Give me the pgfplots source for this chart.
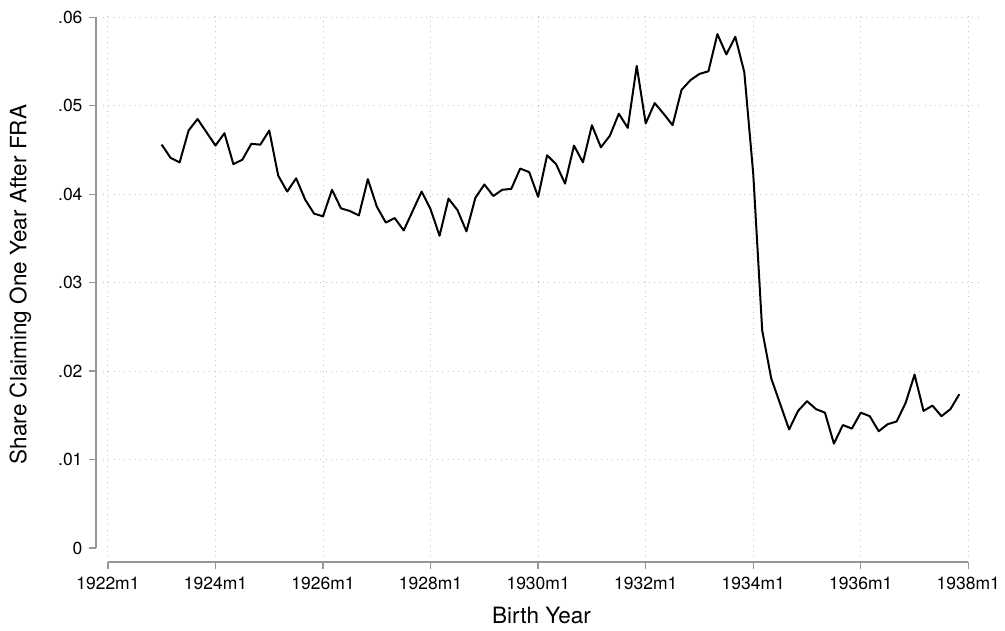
\documentclass[border=0pt]{standalone}
\usepackage{fontspec}
\setmainfont{TeX Gyre Heros}
\usepackage{pgfplots}
\usepackage{pgfplotstable}
\pgfplotsset{compat=1.18}
\pgfplotstableread{
m v
12 0.0456
14 0.0441
16 0.0436
18 0.0472
20 0.0485
22 0.0470
24 0.0455
26 0.0469
28 0.0434
30 0.0439
32 0.0457
34 0.0456
36 0.0472
38 0.0421
40 0.0403
42 0.0418
44 0.0394
46 0.0378
48 0.0375
50 0.0405
52 0.0384
54 0.0381
56 0.0376
58 0.0417
60 0.0386
62 0.0368
64 0.0373
66 0.0359
68 0.0381
70 0.0403
72 0.0383
74 0.0353
76 0.0395
78 0.0382
80 0.0358
82 0.0396
84 0.0411
86 0.0398
88 0.0405
90 0.0406
92 0.0429
94 0.0425
96 0.0397
98 0.0444
100 0.0434
102 0.0412
104 0.0455
106 0.0436
108 0.0478
110 0.0453
112 0.0466
114 0.0491
116 0.0475
118 0.0545
120 0.0480
122 0.0503
124 0.0491
126 0.0478
128 0.0518
130 0.0529
132 0.0536
134 0.0539
136 0.0581
138 0.0558
140 0.0578
142 0.0538
144 0.0423
146 0.0246
148 0.0192
150 0.0163
152 0.0134
154 0.0155
156 0.0166
158 0.0157
160 0.0153
162 0.0118
164 0.0139
166 0.0135
168 0.0153
170 0.0149
172 0.0132
174 0.0140
176 0.0143
178 0.0164
180 0.0196
182 0.0155
184 0.0161
186 0.0149
188 0.0157
190 0.0174
}\datatable
\definecolor{axgray}{RGB}{150,150,150}
\definecolor{gridgray}{RGB}{195,195,195}
\begin{document}
\begin{tikzpicture}
\useasboundingbox (0pt,0pt) rectangle (1005pt,-630pt);
\begin{axis}[
  at={(103pt,-557pt)}, anchor=south west,
  scale only axis, width=877pt, height=545pt,
  xmin=-1.1, xmax=194.6,
  ymin=-0.00102, ymax=0.0606,
  axis lines*=left,
  axis x line shift=5pt,
  axis y line shift=7pt,
  axis line style={-, axgray, line width=1.3pt},
  x axis line style={shorten <=5pt, shorten >=12pt},
  y axis line style={shorten <=9pt, shorten >=5pt},
  tick align=outside,
  major tick length=7pt,
  tick style={axgray, line width=1.3pt},
  xtick={0,24,...,192},
  xticklabels={1922m1,1924m1,1926m1,1928m1,1930m1,1932m1,1934m1,1936m1,1938m1},
  ytick={0.01,0.02,0.03,0.04,0.05,0.06},
  yticklabels={.01,.02,.03,.04,.05,.06},
  extra y ticks={0},
  extra y tick labels={0},
  extra y tick style={grid=none},
  xmajorgrids, ymajorgrids,
  major grid style={gridgray, line width=0.9pt, dash pattern=on 0.9pt off 4.4pt},
  ticklabel style={font=\fontsize{17.5}{17.5}\selectfont, black},
  xticklabel style={yshift=-5pt},
  yticklabel style={xshift=-3pt},
  xlabel={Birth Year},
  ylabel={Share Claiming One Year After FRA},
  label style={font=\fontsize{22.5}{22.5}\selectfont, black},
  xlabel style={yshift=-10pt},
  ylabel style={yshift=6pt},
]
\addplot[black, line width=2pt, line join=round, mark=none] table[x=m, y=v] {\datatable};
\end{axis}
\end{tikzpicture}
\end{document}
